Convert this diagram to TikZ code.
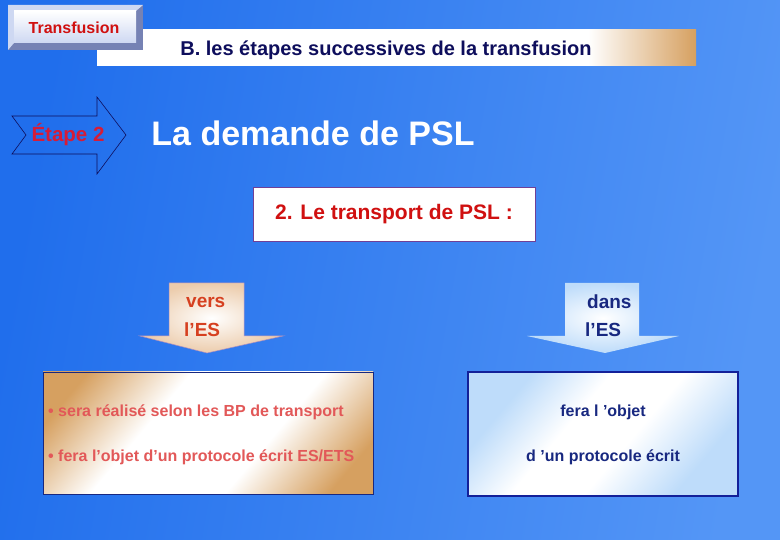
\documentclass[tikz,border=0pt]{standalone}
\usepackage{fontspec}
\setmainfont{Liberation Sans}
\usetikzlibrary{positioning,shadings}

\definecolor{bgleft}{RGB}{32,110,236}
\definecolor{bgright}{RGB}{84,150,246}
\definecolor{navy}{RGB}{14,14,92}
\definecolor{tanbrown}{RGB}{214,160,96}
\definecolor{softtan}{RGB}{236,204,172}
\definecolor{paleblue}{RGB}{190,220,250}
\definecolor{etred}{RGB}{214,28,56}
\definecolor{boxred}{RGB}{208,16,16}
\definecolor{versred}{RGB}{214,64,32}
\definecolor{salmon}{RGB}{226,88,88}
\definecolor{inkblue}{RGB}{24,40,128}
\definecolor{boxpurple}{RGB}{112,64,150}
\definecolor{bevdark}{RGB}{118,130,180}
\definecolor{bevlight}{RGB}{206,216,242}
\pgfdeclarehorizontalshading{bannershade}{100bp}{color(0bp)=(white); color(25bp)=(white); color(66bp)=(white); color(75bp)=(tanbrown); color(100bp)=(tanbrown)}
\pgfdeclarehorizontalshading{tancorners}{100bp}{color(0bp)=(tanbrown); color(22bp)=(tanbrown); color(39bp)=(white); color(61bp)=(white); color(78bp)=(tanbrown); color(100bp)=(tanbrown)}
\pgfdeclarehorizontalshading{bluecorners}{100bp}{color(0bp)=(paleblue); color(27bp)=(paleblue); color(42bp)=(white); color(56bp)=(white); color(73bp)=(paleblue); color(100bp)=(paleblue)}

\newcommand{\fs}[1]{\fontsize{#1}{#1}\selectfont}

\begin{document}
\begin{tikzpicture}[x=1pt,y=-1pt,
    txt/.style={inner sep=0pt,font=\bfseries},
    outline/.style={draw=#1,line width=0.8pt}]
  \useasboundingbox (0,0) rectangle (780,540);
  \shade[left color=bgleft,right color=bgright,shading angle=80] (0,0) rectangle (780,540);

  % header
  \shade[shading=bannershade] (97,30) rectangle (696,66);
  \fill[bevdark] (8,5) rectangle (143,50);
  \fill[bevlight] (8,5) -- (143,5) -- (136,11) -- (14,11) -- (14,43) -- (8,50) -- cycle;
  \shade[top color=white,bottom color=bevlight] (14,11) rectangle (136,43);
  \node[txt,text=boxred,font=\bfseries\fs{16}] (tf) at (74,28) {Transfusion};
  \node[txt,text=navy,font=\bfseries\fs{20}] (title) at (386,50) {B. les étapes successives de la transfusion};

  % etape
  \draw[navy,line width=0.6pt] (12,116) -- (97,116) -- (97,97) -- (126,135) -- (97,174)
    -- (97,154) -- (12,154) -- (26,135) -- cycle;
  \node[txt,text=etred,font=\bfseries\fs{20.5}] (etape) at (68,135) {Étape 2};
  \node[txt,text=white,font=\bfseries\fs{34}] (demande) at (313,133) {La demande de PSL};

  \node[txt,fill=white,outline=boxpurple,minimum width=282pt,minimum height=54pt,
    text=boxred,font=\bfseries\fs{21}] (transport) at (394,214) {2. Le transport de PSL :};

  % fleches
  \shadedraw[inner color=white,outer color=softtan,draw=boxpurple!60,line width=0.5pt]
    (169,283) -- (244,283) -- (244,336) -- (283,336) -- (207,353) -- (140,336) -- (169,336) -- cycle;
  \node[txt,text=versred,font=\bfseries\fs{19},anchor=west] (vers) at (186,302) {vers};
  \node[txt,text=versred,font=\bfseries\fs{19},anchor=west] (vES) at (184,330) {l’ES};

  \shade[inner color=white,outer color=paleblue]
    (565,283) -- (639,283) -- (639,336) -- (679,336) -- (605,353) -- (527,336) -- (565,336) -- cycle;
  \node[txt,text=inkblue,font=\bfseries\fs{19},anchor=west] (dans) at (587,302) {dans};
  \node[txt,text=inkblue,font=\bfseries\fs{19},anchor=west] (dES) at (585,330) {l’ES};

  % cadres
  \shadedraw[shading=tancorners,shading angle=-40,draw=inkblue,line width=0.6pt]
    (43,372) rectangle (373,494);
  \node[txt,text=salmon,font=\bfseries\fs{16},anchor=west] (l1) at (48,412) {• sera réalisé selon les BP de transport};
  \node[txt,text=salmon,font=\bfseries\fs{16},anchor=west] (l2) at (48,457) {• fera l’objet d’un protocole écrit ES/ETS};

  \shadedraw[shading=bluecorners,shading angle=-40,draw=inkblue!80!blue,line width=1.6pt]
    (468,372) rectangle (738,496);
  \node[txt,text=inkblue,font=\bfseries\fs{16}] (r1) at (603,412) {fera l ’objet};
  \node[txt,text=inkblue,font=\bfseries\fs{16}] (r2) at (603,457) {d ’un protocole écrit};
\end{tikzpicture}
\end{document}
